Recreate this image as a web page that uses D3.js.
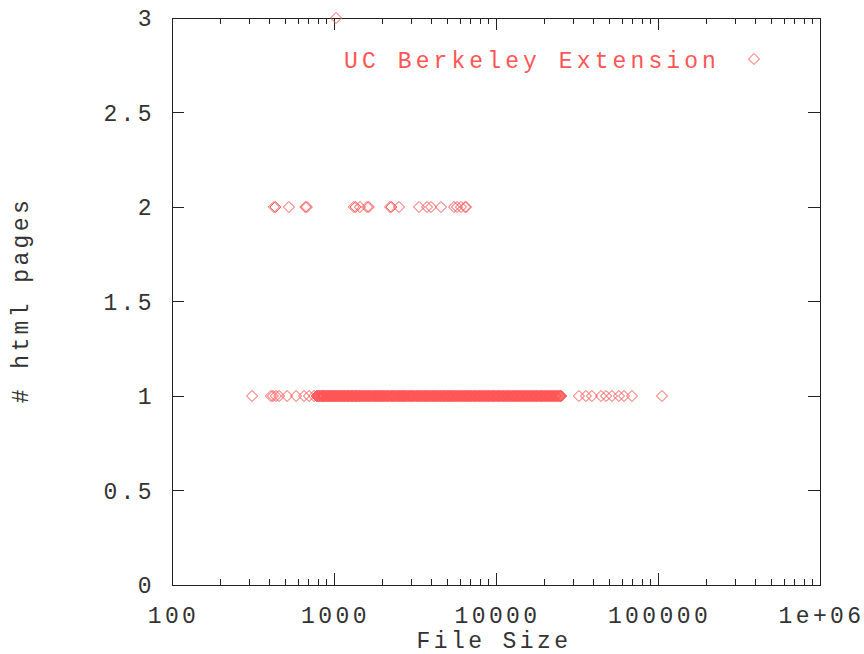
<!DOCTYPE html>
<html>
<head>
<meta charset="utf-8">
<script src="https://cdn.jsdelivr.net/npm/d3@7"></script>
<style>
  html, body { margin: 0; padding: 0; background: #fff; }
  text { font-family: "Liberation Mono", "DejaVu Sans Mono", monospace; font-size: 23px; letter-spacing: 3.4px; }
</style>
</head>
<body>
<svg id="chart" width="864" height="654"></svg>
<script>
// ---- data ----
const seriesName = "UC Berkeley Extension";
const xTickValues = [100, 1000, 10000, 100000, 1000000];
const xTickLabels = ["100", "1000", "10000", "100000", "1e+06"];
const yTickValues = [0, 0.5, 1, 1.5, 2, 2.5, 3];
const yTickLabels = ["0", "0.5", "1", "1.5", "2", "2.5", "3"];

// file sizes of documents with 1 html page
const sizesOnePage = [
  312, 408, 420, 438, 458, 513, 583, 653, 701, 753,
  780, 790, 800, 808, 815, 826, 838, 845, 852, 861, 871, 875, 880, 891, 902, 910, 918, 924, 930, 940,
  951, 958, 967, 976, 985, 994, 1002, 1010, 1018, 1030, 1041, 1050, 1060, 1071, 1083, 1091, 1099, 1110,
  1122, 1134, 1146, 1153, 1160, 1175, 1189, 1202, 1215, 1222, 1230, 1246, 1262, 1275, 1288, 1296, 1305,
  1322, 1340, 1354, 1368, 1380, 1392, 1408, 1425, 1436, 1447, 1463, 1480, 1496, 1512, 1530, 1548, 1561,
  1575, 1593, 1612, 1626, 1640, 1662, 1685, 1698, 1712, 1736, 1760, 1778, 1795, 1812, 1830, 1854, 1878,
  1895, 1912, 1936, 1960, 1982, 2005, 2024, 2042, 2070, 2098, 2119, 2140, 2164, 2188, 2216, 2245, 2268,
  2290, 2311, 2332, 2361, 2390, 2422, 2455, 2476, 2498, 2529, 2560, 2586, 2612, 2646, 2680, 2707, 2735,
  2762, 2790, 2826, 2862, 2896, 2930, 2964, 2998, 3029, 3060, 3092, 3125, 3168, 3210, 3242, 3275, 3308,
  3340, 3382, 3425, 3458, 3490, 3535, 3580, 3620, 3660, 3701, 3742, 3786, 3830, 3867, 3905, 3957, 4010,
  4052, 4095, 4142, 4190, 4235, 4280, 4327, 4375, 4432, 4490, 4535, 4580, 4640, 4700, 4752, 4805, 4862,
  4920, 4972, 5025, 5092, 5160, 5215, 5270, 5332, 5395, 5457, 5520, 5585, 5650, 5720, 5790, 5851, 5912,
  5986, 6060, 6125, 6190, 6268, 6345, 6412, 6480, 6560, 6640, 6718, 6795, 6872, 6950, 7030, 7110, 7200,
  7290, 7372, 7455, 7538, 7620, 7715, 7810, 7900, 7990, 8080, 8170, 8275, 8380, 8475, 8570, 8680, 8790,
  8892, 8995, 9098, 9200, 9315, 9430, 9545, 9660, 9770, 9880, 10000, 10120, 10240, 10360, 10475, 10590,
  10720, 10850, 10980, 11110, 11240, 11370, 11505, 11640, 11780, 11920, 12060, 12200, 12345, 12490,
  12645, 12800, 12945, 13090, 13250, 13410, 13575, 13740, 13895, 14050, 14225, 14400, 14565, 14730,
  14910, 15090, 15265, 15440, 15625, 15810, 15995, 16180, 16375, 16570, 16760, 16950, 17155, 17360,
  17570, 17780, 17985, 18190, 18410, 18630, 18850, 19070, 19295, 19520, 19755, 19990, 20225, 20460,
  20705, 20950, 21200, 21450, 21705, 21960, 22215, 22480, 22750, 23020, 23290, 23560, 23840, 24120,
  24410, 24700, 25000, 25300,
  32500, 35900, 39100, 44500, 47800, 52000, 57400, 61700, 69100, 105800
];
// file sizes of documents with 2 html pages
const sizesTwoPages = [426, 435, 527, 665, 680, 1327, 1360, 1446, 1600, 1640, 2218, 2260, 2518,
  3350, 3750, 3970, 4575, 5505, 5745, 6080, 6450, 6530];
// file sizes of documents with 3 html pages
const sizesThreePages = [1030];

const points = [];
sizesOnePage.forEach(v => points.push({ x: v, y: 1 }));
sizesTwoPages.forEach(v => points.push({ x: v, y: 2 }));
sizesThreePages.forEach(v => points.push({ x: v, y: 3 }));

// ---- layout ----
const svg = d3.select("#chart");
const mLeft = 172, mRight = 820, mTop = 18, mBottom = 585;
const axisColor = "#222";
const markColor = "#ff5555";
const textColor = "#333";

const x = d3.scaleLog().domain([100, 1000000]).range([mLeft, mRight]);
const y = d3.scaleLinear().domain([0, 3]).range([mBottom, mTop]);

const majorLen = 12, minorLen = 6;

// minor x ticks (2..9 of each decade)
const minorX = [];
for (let d = 100; d < 1000000; d *= 10) for (let k = 2; k <= 9; k++) minorX.push(d * k);

const g = svg.append("g");
minorX.forEach(v => {
  g.append("line").attr("x1", x(v)).attr("x2", x(v)).attr("y1", mBottom).attr("y2", mBottom - minorLen);
  g.append("line").attr("x1", x(v)).attr("x2", x(v)).attr("y1", mTop).attr("y2", mTop + minorLen);
});
xTickValues.forEach(v => {
  g.append("line").attr("x1", x(v)).attr("x2", x(v)).attr("y1", mBottom).attr("y2", mBottom - majorLen);
  g.append("line").attr("x1", x(v)).attr("x2", x(v)).attr("y1", mTop).attr("y2", mTop + majorLen);
});
yTickValues.forEach(v => {
  g.append("line").attr("x1", mLeft).attr("x2", mLeft + majorLen).attr("y1", y(v)).attr("y2", y(v));
  g.append("line").attr("x1", mRight).attr("x2", mRight - majorLen).attr("y1", y(v)).attr("y2", y(v));
});
g.selectAll("line").attr("stroke", axisColor).attr("stroke-width", 1).attr("shape-rendering", "crispEdges");

// frame
svg.append("rect").attr("x", mLeft).attr("y", mTop).attr("width", mRight - mLeft).attr("height", mBottom - mTop)
  .attr("fill", "none").attr("stroke", axisColor).attr("stroke-width", 1).attr("shape-rendering", "crispEdges");

// tick labels
xTickValues.forEach((v, i) => {
  svg.append("text").attr("x", x(v) + 1.5).attr("y", 623).attr("text-anchor", "middle")
    .attr("fill", textColor).text(xTickLabels[i]);
});
yTickValues.forEach((v, i) => {
  svg.append("text").attr("x", 155).attr("y", y(v) + 8).attr("text-anchor", "end")
    .attr("fill", textColor).text(yTickLabels[i]);
});

// axis titles
svg.append("text").attr("x", 494).attr("y", 648).attr("text-anchor", "middle").attr("fill", textColor).text("File Size");
svg.append("text").attr("transform", "translate(28,300) rotate(-90)").attr("text-anchor", "middle")
  .attr("fill", textColor).text("# html pages");

// diamond marker
const r = 5.5;
const diamond = `M0,${-r}L${r},0L0,${r}L${-r},0Z`;

svg.append("g").selectAll("path").data(points).join("path")
  .attr("d", diamond)
  .attr("transform", d => `translate(${x(d.x)},${y(d.y)})`)
  .attr("fill", "none").attr("stroke", markColor).attr("stroke-width", 1);

// legend
svg.append("text").attr("x", 720).attr("y", 68).attr("text-anchor", "end").attr("fill", markColor)
  .style("letter-spacing", "4.1px").text(seriesName);
svg.append("path").attr("d", diamond).attr("transform", "translate(754,59)")
  .attr("fill", "none").attr("stroke", markColor).attr("stroke-width", 1);
</script>
</body>
</html>
